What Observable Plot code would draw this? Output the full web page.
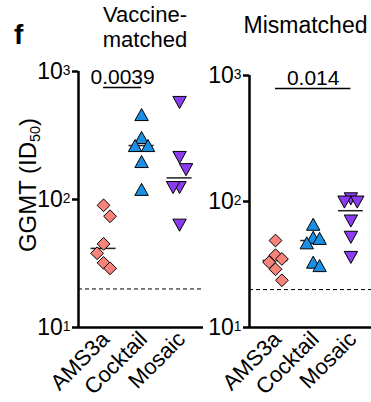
<!DOCTYPE html>
<html><head><meta charset="utf-8">
<script src="https://cdn.jsdelivr.net/npm/d3@7"></script>
<script src="https://cdn.jsdelivr.net/npm/@observablehq/plot@0.6"></script>
<style>
html,body{margin:0;padding:0;background:#fff;overflow:hidden;}
#wrap{position:relative;width:371px;height:402px;overflow:hidden;font-family:"Liberation Sans",Arial,sans-serif;color:#000;}
#wrap svg{position:absolute;top:0;}
.t{position:absolute;white-space:nowrap;}
#ylab{left:27.7px;top:184.5px;font-size:24px;line-height:1;transform:translate(-50%,-50%) rotate(-90deg);}
#ylab sub{font-size:0.6em;vertical-align:-0.25em;line-height:0;}
</style></head><body>
<div id="wrap">
 <div class="t" style="left:14px;top:21px;font-size:28px;font-weight:bold;line-height:1;">f</div>
 <div class="t" style="left:65px;top:2.4px;width:160px;text-align:center;font-size:22px;line-height:25px;">Vaccine-<br>matched</div>
 <div class="t" style="left:225.5px;top:14.5px;width:160px;text-align:center;font-size:23px;line-height:21px;">Mismatched</div>
 <div class="t" id="ylab">GGMT (ID<sub>50</sub>)</div>
</div>
<script>
const groups = ["AMS3a", "Cocktail", "Mosaic"];
const matchedAMS3a = [90, 74, 45, 38, 32, 29];
const matchedCocktail = [461, 305, 264, 264, 198, 120];
const matchedMosaic = [573, 213, 171, 124, 124, 63];
const mismatchedAMS3a = [49, 37.5, 35, 33, 29, 23.7];
const mismatchedCocktail = [66, 52, 51, 47, 33, 31];
const mismatchedMosaic = [105, 99, 99, 70, 52, 36];
const yTicks = [10, 100, 1000];
const yTickLabels = ["10¹", "10²", "10³"];
const limitOfDetection = 20;
const matchedP = {from: "AMS3a", to: "Cocktail", label: "0.0039"};
const mismatchedP = {from: "AMS3a", to: "Mosaic", label: "0.014"};
const groupColors = ["#F8837A", "#1A8FE3", "#8B3CF2"];

const symDiamond = {draw(ctx, size) { const r = Math.sqrt(size / Math.PI); ctx.moveTo(0, -r); ctx.lineTo(r, 0); ctx.lineTo(0, r); ctx.lineTo(-r, 0); ctx.closePath(); }};
const symUp = {draw(ctx, size) { const r = Math.sqrt(size / Math.PI); ctx.moveTo(0, -0.9 * r); ctx.lineTo(r, 0.9 * r); ctx.lineTo(-r, 0.9 * r); ctx.closePath(); }};
const symDown = {draw(ctx, size) { const r = Math.sqrt(size / Math.PI); ctx.moveTo(0, 0.9 * r); ctx.lineTo(r, -0.9 * r); ctx.lineTo(-r, -0.9 * r); ctx.closePath(); }};
const symbols = [symDiamond, symUp, symDown];
const symbolR = [6.4, 6.7, 6.7];

// simple collision spreading (like a scatter-dot column plot)
function spread(values, gi) {
  const sorted = values.slice().sort((a, b) => b - a);
  const placed = [];
  let side = 1;
  for (const v of sorted) {
    const lv = Math.log10(v);
    const free = s => !placed.some(p => p.slot === s && Math.abs(p.lv - lv) < 0.1);
    let slot = 0;
    if (!free(0)) {
      if (free(side)) slot = side; else if (free(-side)) slot = -side; else slot = 2 * side;
      side = -side;
    }
    placed.push({lv, slot, value: v, gi});
  }
  return placed;
}

const supMap = {"¹": "1", "²": "2", "³": "3"};

function panel({values, left, width, marginLeft, marginRight, marginTop, xDomain, sig, sigY}) {
  const medians = values.map((vals, i) => ({gi: i, m: d3.median(vals)}));
  const a = groups.indexOf(sig.from), b = groups.indexOf(sig.to);
  const dots = values.map((vals, i) => Plot.dot(spread(vals, i), {
    x: d => d.gi + d.slot * 0.17, y: "value", symbol: symbols[i], r: symbolR[i],
    fill: groupColors[i], stroke: "black", strokeWidth: 1
  }));
  const svg = Plot.plot({
    width, height: 402, marginLeft, marginRight, marginTop, marginBottom: 75,
    style: {background: "transparent", overflow: "visible", fontFamily: "'Liberation Sans', Arial, sans-serif", color: "black"},
    x: {domain: xDomain, label: null},
    y: {type: "log", domain: [10, 1000], label: null},
    marks: [
      Plot.ruleY([limitOfDetection], {strokeDasharray: "4,3", strokeWidth: 1}),
      Plot.ruleY(medians, {y: "m", x1: d => d.gi - 0.33, x2: d => d.gi + 0.33, strokeWidth: 1.5, stroke: "#222"}),
      ...dots,
      Plot.ruleY([sigY], {x1: a, x2: b, strokeWidth: 1.5}),
      Plot.text([sig.label], {x: (a + b) / 2, y: sigY, text: d => d, fontSize: 21, lineAnchor: "bottom", dy: -3}),
      Plot.ruleX([xDomain[0]], {strokeWidth: 2.5}),
      Plot.ruleY([10], {strokeWidth: 2.5}),
      Plot.axisY({ticks: yTicks, tickFormat: d => yTickLabels[yTicks.indexOf(d)], tickSize: 6, strokeWidth: 2.5, fontSize: 23, tickPadding: 2, label: null}),
      Plot.axisX({ticks: [0, 1, 2], tickFormat: i => groups[i], tickRotate: -45, tickSize: 0, tickPadding: 8, dx: 2, fontSize: 22, label: null})
    ]
  });
  // render exponent as a real superscript
  d3.select(svg).selectAll("text").each(function () {
    const t = this.textContent;
    const m = /^10([¹²³])$/.exec(t);
    if (m && this.children.length === 0) {
      const sel = d3.select(this);
      sel.text("10");
      sel.append("tspan").attr("dy", "-0.3em").attr("font-size", "0.6em").text(supMap[m[1]]);
    }
  });
  svg.style.left = left + "px";
  document.getElementById("wrap").appendChild(svg);
}

panel({values: [matchedAMS3a, matchedCocktail, matchedMosaic], left: 0, width: 205, marginLeft: 78, marginRight: 2, marginTop: 71, xDomain: [-0.66, 2.63], sig: matchedP, sigY: 750});
panel({values: [mismatchedAMS3a, mismatchedCocktail, mismatchedMosaic], left: 175, width: 201, marginLeft: 74, marginRight: 0, marginTop: 75, xDomain: [-0.69, 2.68], sig: mismatchedP, sigY: 790});
</script>
</body></html>
